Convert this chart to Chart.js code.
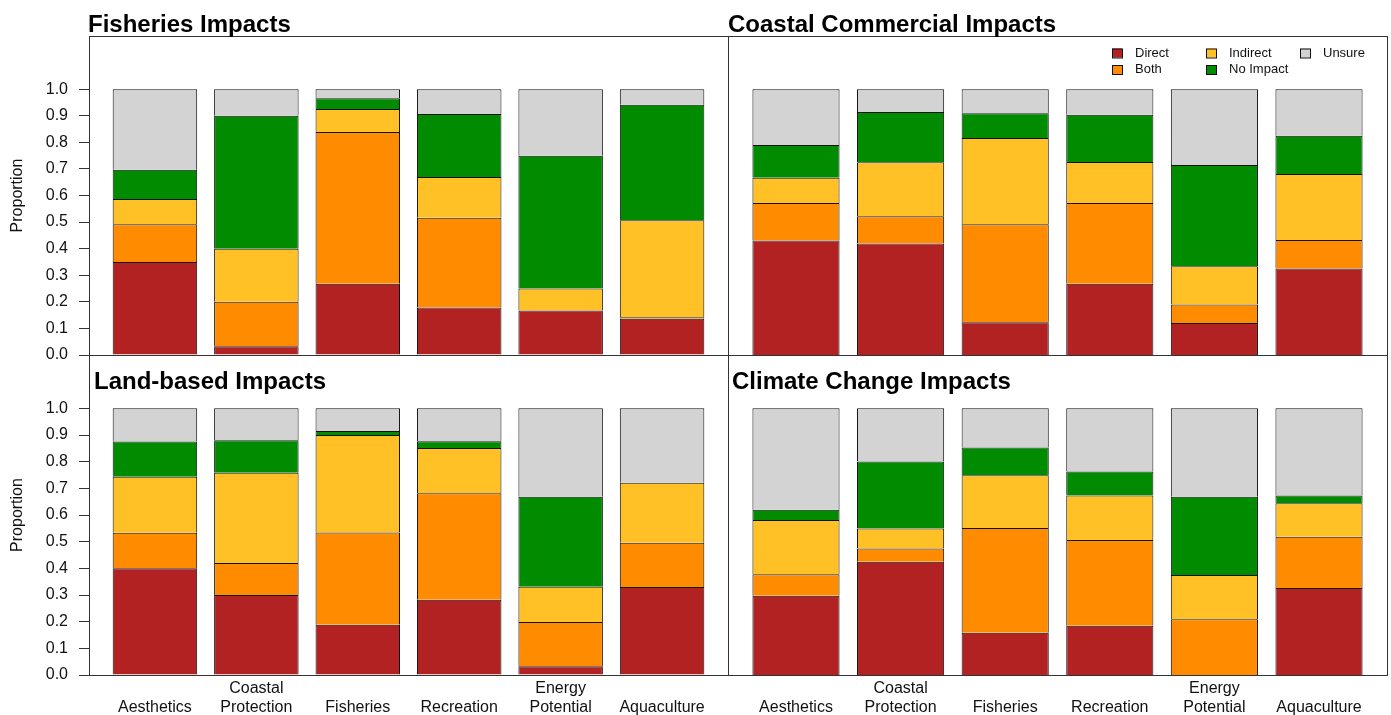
<!DOCTYPE html>
<html>
<head>
<meta charset="utf-8">
<script src="https://cdn.jsdelivr.net/npm/chart.js@4.4.1/dist/chart.umd.min.js"></script>
<style>
  html, body { margin: 0; background: #fff; }
  #wrap { position: relative; width: 1391px; height: 715px; }
  #wrap canvas { position: absolute; left: 0; top: 0; }
</style>
</head>
<body>
<div id="wrap">
  <canvas id="fish" width="1391" height="715"></canvas>
  <canvas id="coast" width="1391" height="715"></canvas>
  <canvas id="land" width="1391" height="715"></canvas>
  <canvas id="climate" width="1391" height="715"></canvas>
</div>
<script>
const categories = ["Aesthetics", "Coastal Protection", "Fisheries", "Recreation", "Energy Potential", "Aquaculture"];
const seriesNames = ["Direct", "Both", "Indirect", "No Impact", "Unsure"];
const seriesColors = ["#b22222", "#ff8c00", "#ffc125", "#008b00", "#d3d3d3"];
const yTicks = [0, 0.1, 0.2, 0.3, 0.4, 0.5, 0.6, 0.7, 0.8, 0.9, 1.0];

// Fisheries Impacts
const fishDirect   = [0.350, 0.033, 0.268, 0.179, 0.167, 0.136];
const fishBoth     = [0.142, 0.167, 0.571, 0.337, 0.000, 0.006];
const fishIndirect = [0.095, 0.200, 0.086, 0.154, 0.083, 0.365];
const fishNone     = [0.110, 0.500, 0.041, 0.237, 0.500, 0.434];
const fishUnsure   = [0.303, 0.100, 0.034, 0.093, 0.250, 0.059];

// Coastal Commercial Impacts
const coastDirect   = [0.431, 0.419, 0.123, 0.268, 0.120, 0.325];
const coastBoth     = [0.141, 0.103, 0.369, 0.304, 0.070, 0.108];
const coastIndirect = [0.095, 0.203, 0.324, 0.154, 0.144, 0.248];
const coastNone     = [0.123, 0.189, 0.093, 0.178, 0.381, 0.144];
const coastUnsure   = [0.210, 0.086, 0.091, 0.096, 0.285, 0.175];

// Land-based Impacts
const landDirect   = [0.400, 0.300, 0.188, 0.282, 0.033, 0.330];
const landBoth     = [0.133, 0.120, 0.346, 0.400, 0.166, 0.166];
const landIndirect = [0.210, 0.338, 0.366, 0.169, 0.132, 0.225];
const landNone     = [0.133, 0.122, 0.015, 0.026, 0.337, 0.000];
const landUnsure   = [0.124, 0.120, 0.085, 0.123, 0.332, 0.279];

// Climate Change Impacts
const climDirect   = [0.297, 0.425, 0.158, 0.185, 0.000, 0.326];
const climBoth     = [0.081, 0.049, 0.393, 0.321, 0.209, 0.192];
const climIndirect = [0.203, 0.075, 0.198, 0.167, 0.166, 0.126];
const climNone     = [0.039, 0.252, 0.104, 0.090, 0.293, 0.029];
const climUnsure   = [0.380, 0.199, 0.147, 0.237, 0.332, 0.327];

const FONT = "'Liberation Sans', Arial, sans-serif";

// panel box, panel title and (top right only) the legend
const framePlugin = {
  id: 'frame',
  afterDraw(chart, args, opts) {
    const {ctx, chartArea: a} = chart;
    ctx.save();
    ctx.strokeStyle = '#333';
    ctx.lineWidth = 1;
    ctx.strokeRect(a.left + 0.5, a.top + 0.5, a.right - a.left, a.bottom - a.top);
    if (opts.title) {
      ctx.fillStyle = '#000';
      ctx.font = 'bold 24px ' + FONT;
      ctx.textBaseline = 'alphabetic';
      ctx.fillText(opts.title, opts.tx, opts.ty);
    }
    if (opts.legend) {
      ctx.font = '13px ' + FONT;
      ctx.textBaseline = 'middle';
      chart.data.datasets.forEach((ds, i) => {
        const col = Math.floor(i / 2), row = i % 2;
        const x = 1112 + col * 94, y = 53 + row * 16.5;
        ctx.fillStyle = ds.backgroundColor;
        ctx.fillRect(x, y - 4.5, 10, 9);
        ctx.strokeStyle = '#111';
        ctx.strokeRect(x + 0.5, y - 4, 10, 9);
        ctx.fillStyle = '#111';
        ctx.fillText(ds.label, x + 23, y);
      });
    }
    ctx.restore();
  }
};

function makeChart(id, series, o) {
  const datasets = series.map((vals, s) => ({
    label: seriesNames[s],
    data: vals.map((v, i) => ({x: i, y: v})),
    backgroundColor: seriesColors[s],
    borderColor: '#111',
    borderWidth: 1,
    barPercentage: 0.833,
    categoryPercentage: 1
  }));
  return new Chart(document.getElementById(id), {
    type: 'bar',
    data: {datasets},
    plugins: [framePlugin],
    options: {
      responsive: false,
      animation: false,
      layout: {padding: o.padding},
      scales: {
        x: {
          type: 'linear',
          stacked: true,
          offset: false,
          min: -0.65,
          max: 5.65,
          display: o.showX,
          afterBuildTicks: s => { s.ticks = categories.map((c, i) => ({value: i})); },
          afterFit: s => { if (o.showX) s.height = 40; },
          grid: {display: false, drawTicks: false, offset: false},
          border: {display: false},
          ticks: {
            autoSkip: false,
            maxRotation: 0,
            padding: 4,
            color: '#111',
            font: {family: FONT, size: 16},
            callback: v => {
              const parts = categories[v].split(' ');
              return parts.length > 1 ? parts : ['', parts[0]];
            }
          }
        },
        y: {
          stacked: true,
          min: 0,
          max: 1.2,
          display: o.showY,
          afterBuildTicks: s => { s.ticks = yTicks.map(v => ({value: v})); },
          afterFit: s => { if (o.showY) s.width = 89; },
          grid: {drawOnChartArea: false, drawTicks: true, tickLength: 10, color: '#333'},
          border: {display: false},
          ticks: {
            padding: 11,
            color: '#111',
            font: {family: FONT, size: 16},
            callback: v => v.toFixed(1)
          },
          title: {
            display: true,
            text: 'Proportion',
            color: '#111',
            font: {family: FONT, size: 16},
            padding: {top: 8, bottom: 0}
          }
        }
      },
      plugins: {
        legend: {display: false},
        tooltip: {enabled: false},
        frame: o.frame
      }
    }
  });
}

makeChart('fish', [fishDirect, fishBoth, fishIndirect, fishNone, fishUnsure], {
  padding: {left: 0, top: 36, right: 663, bottom: 360}, showX: false, showY: true,
  frame: {title: 'Fisheries Impacts', tx: 88, ty: 32}
});
makeChart('coast', [coastDirect, coastBoth, coastIndirect, coastNone, coastUnsure], {
  padding: {left: 728, top: 36, right: 4, bottom: 360}, showX: false, showY: false,
  frame: {title: 'Coastal Commercial Impacts', tx: 728, ty: 32, legend: true}
});
makeChart('land', [landDirect, landBoth, landIndirect, landNone, landUnsure], {
  padding: {left: 0, top: 355, right: 663, bottom: 0}, showX: true, showY: true,
  frame: {title: 'Land-based Impacts', tx: 94, ty: 389}
});
makeChart('climate', [climDirect, climBoth, climIndirect, climNone, climUnsure], {
  padding: {left: 728, top: 355, right: 4, bottom: 0}, showX: true, showY: false,
  frame: {title: 'Climate Change Impacts', tx: 732, ty: 389}
});
</script>
</body>
</html>
